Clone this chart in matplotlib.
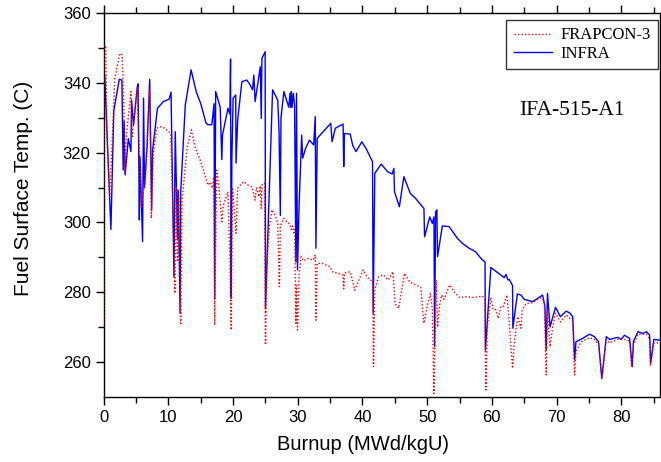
import matplotlib
matplotlib.use("Agg")
import matplotlib.pyplot as plt

# ---- data ----
infra_burnup = [0, 0, 0.15, 1.1, 1.55, 2.4, 2.8, 3.0, 3.15, 3.3, 3.8, 4.2, 4.3, 4.6, 5.2, 5.3, 5.5, 5.6, 6.0, 6.15,
                6.3, 6.7, 7.1, 7.4, 7.55, 8.3, 9.2, 10.1, 10.4, 10.85, 11.05, 11.4, 11.5, 11.8, 11.9, 12.6, 13.5, 14.3, 15.0, 15.8,
                16.1, 16.7, 17.05, 17.15, 17.3, 18.0, 18.25, 18.35, 19.2, 19.5, 19.6, 19.7, 19.8, 20.0, 20.4, 20.45, 20.7, 21.35, 22.1, 22.6,
                23.0, 23.2, 23.4, 24.2, 24.35, 24.45, 24.95, 25.0, 26.1, 26.9, 27.1, 27.3, 27.4, 27.85, 28.6, 28.8, 28.9, 29.0, 29.1, 29.3,
                29.5, 29.7, 29.8, 29.95, 30.2, 30.6, 30.75, 31.2, 31.8, 32.45, 32.7, 32.8, 33.0, 35.1, 35.3, 35.8, 37.0, 37.1, 37.2, 38.1,
                38.5, 39.0, 39.9, 40.6, 41.55, 41.65, 41.9, 42.9, 43.9, 44.6, 44.85, 44.95, 45.7, 46.4, 47.4, 48.2, 49.5, 49.6, 50.4, 50.8,
                51.05, 51.15, 51.3, 51.5, 51.6, 52.35, 53.4, 54.7, 55.45, 56.5, 57.5, 58.45, 58.95, 59.0, 59.85, 60.9, 61.9, 62.2, 62.5, 62.7,
                63.2, 63.25, 63.95, 64.5, 65.0, 66.3, 67.85, 68.2, 68.4, 68.6, 69.0, 69.85, 70.6, 71.5, 72.1, 72.5, 72.8, 73.0, 74.05, 75.1,
                75.85, 76.5, 77.0, 77.7, 78.2, 79.5, 80.0, 80.5, 81.3, 81.7, 81.9, 82.6, 83.35, 83.9, 84.4, 84.55, 85.05, 85.9, 86.5]
infra_temp = [250, 342, 342, 298, 332, 341, 340.8, 315, 329, 313.6, 324, 320.3, 335, 328, 339, 339.7, 300.7, 318.8, 294.5, 335.6,
              310, 322, 341, 303.6, 320.7, 332.7, 334.6, 335.3, 337.3, 284.4, 326, 295, 309.3, 274, 308.8, 333.6, 343.7, 337.4, 334, 328.5,
              328, 328, 334, 278.3, 337.5, 333, 318, 325, 332.7, 331, 346.8, 278.3, 318, 335.6, 336.5, 317, 329.3, 340.3, 340.8, 339.5,
              338, 342.2, 334.6, 344.6, 329.8, 347, 348.9, 275.4, 338, 335, 326, 302, 330, 337.5, 333, 337, 333, 337.5, 333, 337,
              333.5, 288.7, 337, 286.4, 305, 325, 318.4, 321.2, 323.6, 322.2, 330.3, 292.6, 324.1, 328.4, 323.1, 327, 328.2, 316, 325.5, 325.3,
              322, 320.3, 323.1, 321, 317.4, 274, 314.1, 316.7, 314.5, 313.9, 315.5, 308.8, 304.5, 313.1, 308.3, 306.9, 304, 295.9, 301.6, 299.7,
              301.6, 264.4, 303, 303.6, 290.2, 299, 298.8, 295.4, 294, 292.6, 291.6, 289.4, 288.7, 263.4, 287.1, 285.6, 284.2, 285.1, 283.5, 283.7,
              281.9, 269.7, 279.5, 279.2, 278, 277.3, 279.2, 276, 263.4, 279.7, 270.1, 275.7, 273, 274.6, 274, 273, 260.6, 265.8, 266.8, 268,
              267.3, 265.8, 255.3, 267.3, 266.5, 267.1, 266.5, 267.7, 266.8, 258.7, 266, 268.7, 268.2, 268.7, 267.7, 259.6, 266.5, 266.3, 266]

frapcon_burnup = [0, 0, 0.3, 0.5, 0.9, 1.25, 1.7, 2.5, 2.85, 3.1, 3.25, 3.5, 3.8, 4.2, 4.4, 4.8, 5.15, 5.6, 5.8, 6.0,
                  6.4, 7.1, 7.35, 7.65, 8.15, 8.8, 9.45, 10.35, 10.75, 11.0, 11.2, 11.4, 11.6, 11.9, 12.1, 12.55, 12.9, 13.55, 14.1, 14.9,
                  15.65, 16.1, 16.5, 16.8, 17.0, 17.15, 17.45, 17.8, 18.25, 18.5, 19.2, 19.5, 19.7, 19.9, 20.45, 20.7, 21.6, 22.3, 22.9, 23.15,
                  23.4, 23.6, 24.0, 24.2, 24.35, 24.5, 24.85, 25.0, 25.2, 25.6, 26.0, 26.5, 26.9, 27.15, 27.3, 27.8, 28.4, 28.8, 29.0, 29.2,
                  29.4, 29.5, 29.7, 29.8, 29.95, 30.2, 30.5, 30.9, 31.6, 32.4, 32.7, 32.8, 33.0, 33.75, 35.0, 35.3, 36.3, 37.0, 37.1, 37.2,
                  38.1, 38.8, 40.1, 40.9, 41.6, 41.7, 41.9, 42.5, 43.2, 44.0, 44.7, 45.05, 45.6, 46.5, 47.3, 48.2, 49.0, 49.5, 50.0, 50.5,
                  50.8, 51.05, 51.2, 51.4, 51.6, 51.9, 52.25, 52.6, 53.5, 54.2, 55.0, 56.0, 57.3, 58.55, 58.9, 59.1, 59.3, 59.85, 60.2, 60.6,
                  61.0, 61.4, 61.8, 62.3, 62.5, 63.2, 63.5, 64.0, 64.3, 64.5, 64.7, 65.3, 66.3, 67.6, 68.1, 68.4, 68.6, 69.0, 69.4, 69.85,
                  70.6, 71.5, 72.1, 72.5, 72.8, 73.0, 73.8, 75.1, 75.85, 76.5, 77.0, 77.7, 78.2, 79.5, 80.5, 81.3, 81.6, 81.9, 82.6, 83.9,
                  84.4, 84.5, 85.05, 85.9, 86.5]
frapcon_temp = [270, 350, 350.3, 324.6, 307.4, 320.7, 341.3, 348.4, 348, 333.2, 314.1, 325, 330.3, 337.5, 324.6, 332, 338.4, 316, 304, 307.4,
                312, 338, 301.2, 319.3, 327, 327.4, 327, 325.5, 299.3, 279.7, 310, 288.7, 307, 270.6, 306.4, 315, 321.7, 326.5, 321.7, 317.9,
                313.5, 310.7, 311.5, 309.8, 313, 270.6, 315, 310.2, 300.2, 305, 308.8, 289.7, 269.2, 310, 296.9, 309.8, 311.7, 310.7, 310.2, 308.3,
                306.4, 310, 307.4, 310.5, 304, 311, 311.2, 264.9, 287.3, 298.8, 303.6, 302.1, 299.7, 281.6, 299, 301.2, 300, 299.5, 298, 299,
                297, 298, 271.1, 282, 269.2, 285, 290.2, 289, 289.7, 289.2, 290.7, 272, 288.3, 288.3, 287.3, 285.9, 285.4, 284.9, 281, 285.5,
                285.9, 280.6, 286.4, 284, 283, 258.7, 281, 284.4, 285, 283.5, 285.9, 276.8, 275.4, 285.4, 283, 282.1, 281.5, 271.1, 276, 279.7,
                275, 251, 266, 283.5, 270, 276, 279.2, 278, 282.1, 280, 278.5, 278.7, 278.5, 278.9, 278, 252, 270, 278.5, 275, 275,
                272.5, 276, 276, 279.2, 276, 258.2, 266, 273, 271, 269.7, 274.9, 276.8, 277, 278.5, 277.5, 256.3, 275, 264.4, 270, 274,
                271.5, 273.5, 272.5, 272, 256.3, 263, 265.8, 267, 266.5, 265, 255.3, 266.5, 265.5, 266.5, 266.5, 266, 258.7, 265, 268, 268,
                266.5, 258.9, 265.5, 265.5, 265.5]

x_ticks = [0, 10, 20, 30, 40, 50, 60, 70, 80]
y_ticks = [260, 280, 300, 320, 340, 360]
series_names = ["FRAPCON-3", "INFRA"]
case_label = "IFA-515-A1"

# ---- figure ----
fig = plt.figure(figsize=(6.61, 4.62), dpi=100)
ax = fig.add_axes([0.157, 0.1407, 0.8415, 0.8312])

ax.plot(frapcon_burnup, frapcon_temp, color="#ff0000", linestyle=(0, (1, 1.5)), linewidth=1.0,
        label=series_names[0], zorder=3)
ax.plot(infra_burnup, infra_temp, color="#0000ff", linestyle="-", linewidth=1.0,
        label=series_names[1], zorder=2)

ax.set_xlim(0, 86)
ax.set_ylim(250, 360)
ax.set_xticks(x_ticks)
ax.set_yticks(y_ticks)
ax.set_xticks([v + 5 for v in x_ticks], minor=True)
ax.set_yticks([270, 290, 310, 330, 350], minor=True)

tick_font = "Liberation Sans"
for lab in ax.get_xticklabels() + ax.get_yticklabels():
    lab.set_fontfamily(tick_font)
    lab.set_fontsize(12)

ax.tick_params(which="major", direction="out", length=5.5, width=1.0, top=True, right=True, pad=4)
ax.tick_params(which="minor", direction="out", length=4, width=1.0, top=True, right=True)
for s in ax.spines.values():
    s.set_linewidth(1.0)
    s.set_color("black")

ax.set_xlabel("Burnup (MWd/kgU)", fontsize=14.5, family=tick_font)
ax.set_ylabel("Fuel Surface Temp. (C)", fontsize=15, family=tick_font)
ax.xaxis.set_label_coords(0.466, -0.098)
ax.yaxis.set_label_coords(-0.128, 0.542)

leg = ax.legend(loc="upper right", bbox_to_anchor=(0.9964, 0.9818), prop={"family": "Liberation Serif", "size": 12},
                frameon=True, fancybox=False, edgecolor="black", borderpad=0.45, handlelength=2.3,
                labelspacing=0.15, handletextpad=0.5, borderaxespad=0.0)
leg.get_frame().set_linewidth(1.0)

ax.text(0.842, 0.747, case_label, transform=ax.transAxes, ha="center", va="center",
        fontsize=15.5, family="Liberation Serif")

fig.savefig("out.png", dpi=100)
